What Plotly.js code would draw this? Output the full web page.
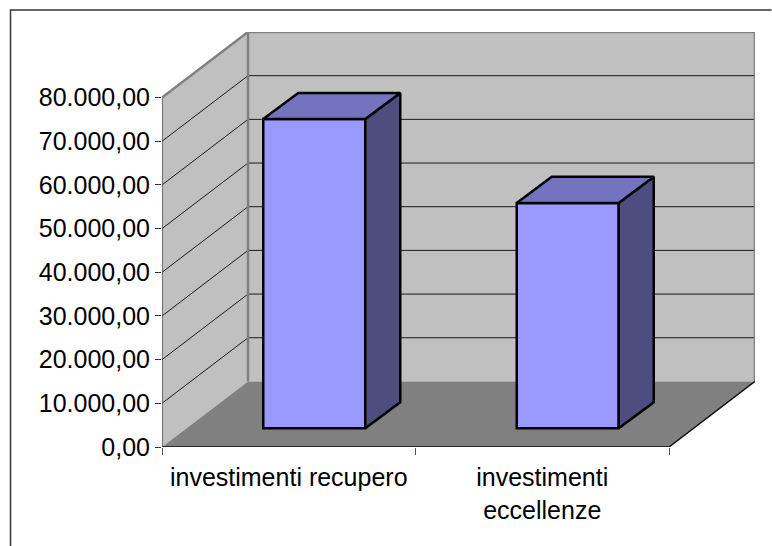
<!DOCTYPE html>
<html>
<head>
<meta charset="utf-8">
<script src="https://cdn.plot.ly/plotly-3.0.1.min.js"></script>
<style>html,body{margin:0;padding:0;background:#fff;overflow:hidden}#chart{width:772px;height:546px}</style>
</head>
<body>
<div id="chart"></div>
<script>
const categories = ['investimenti recupero', 'investimenti<br>eccellenze'];
const values = [70800, 51600];
const yTicks = [0, 10000, 20000, 30000, 40000, 50000, 60000, 70000, 80000];

// Pixel geometry of the fake 3D box
const W = 772, H = 546;
const left = 162, frontRight = 669, bottom = 447, top80 = 98;
const depthPx = 86, risePx = 65.5;
const catPx = (frontRight - left) / categories.length;
const valPx = (bottom - top80) / 80000;
// Conversions to data units
const dx = depthPx / catPx;
const dy = risePx / valPx;
const xMin = -0.5, xFront = xMin + categories.length, xBack = xFront + dx;
const yBack = 80000 + dy;
// Bars sit part way into the floor
const barDx = 25.5 / catPx, barDy = 18.7 / valPx;
const barW = 102 / catPx;
const barDepthX = 35 / catPx, barDepthY = 26 / valPx;

const poly = pts => 'M' + pts.map(p => p[0] + ',' + p[1]).join('L') + 'Z';
const open = pts => 'M' + pts.map(p => p[0] + ',' + p[1]).join('L');
const shape = (path, fill, lineColor, lineWidth) => ({
  type: 'path', xref: 'x', yref: 'y', layer: 'below', path,
  fillcolor: fill || 'rgba(0,0,0,0)',
  line: {color: lineColor || 'rgba(0,0,0,0)', width: lineWidth || 0}
});

const shapes = [
  shape(poly([[xMin, 0], [xMin + dx, dy], [xMin + dx, yBack], [xMin, 80000]]), '#C0C0C0'),
  shape(poly([[xMin + dx, dy], [xBack, dy], [xBack, yBack], [xMin + dx, yBack]]), '#C0C0C0'),
  shape(poly([[xMin, 0], [xMin + dx, dy], [xBack, dy], [xFront, 0]]), '#808080')
];
yTicks.filter(v => v > 0 && v < 80000).forEach(v => {
  shapes.push(shape(open([[xMin, v], [xMin + dx, v + dy], [xBack, v + dy]]), null, '#1a1a1a', 1));
});
// Wall edges
shapes.push(shape(open([[xMin, 80000], [xMin + dx, yBack], [xBack, yBack], [xBack, dy]]), null, '#808080', 2.5));
shapes.push(shape(open([[xMin + dx, dy], [xMin + dx, yBack]]), null, '#808080', 2.5));
// Axes and floor edge
shapes.push(shape(open([[xMin, 0], [xMin, 80000]]), null, '#555555', 1.5));
shapes.push(shape(open([[xMin, 0], [xFront, 0], [xBack, dy]]), null, '#111111', 1.5));

const traces = [{
  type: 'bar',
  x: categories.map((c, i) => i + barDx),
  y: values,
  base: barDy,
  width: barW,
  marker: {color: '#9999FF', line: {color: '#000000', width: 2.5}},
  hoverinfo: 'skip'
}];
values.forEach((v, i) => {
  const x0 = i + barDx - barW / 2, x1 = x0 + barW;
  const b = barDy, t = barDy + v;
  const ex = barDepthX, ey = barDepthY;
  traces.push({
    type: 'scatter', mode: 'lines', fill: 'toself', fillcolor: '#4D4D80',
    x: [x1, x1 + ex, x1 + ex, x1, x1],
    y: [b, b + ey, t + ey, t, b],
    line: {color: '#000000', width: 2.5}, hoverinfo: 'skip'
  });
  traces.push({
    type: 'scatter', mode: 'lines', fill: 'toself', fillcolor: '#7373BF',
    x: [x0, x0 + ex, x1 + ex, x1, x0],
    y: [t, t + ey, t + ey, t, t],
    line: {color: '#000000', width: 2.5}, hoverinfo: 'skip'
  });
});

const pw = (xBack - xMin) * catPx, ph = yBack * valPx;
const layout = {
  width: W, height: H,
  margin: {l: left, r: W - (left + pw), t: bottom - ph, b: H - bottom, pad: 0},
  paper_bgcolor: '#ffffff', plot_bgcolor: 'rgba(0,0,0,0)',
  showlegend: false,
  bargap: 0,
  separators: ',.',
  font: {family: '"Liberation Sans", Arial, sans-serif', size: 25, color: '#000000'},
  xaxis: {
    range: [xMin, xBack], showgrid: false, zeroline: false, showline: false, fixedrange: true,
    tickmode: 'array', tickvals: categories.map((c, i) => i), ticktext: categories,
    ticks: 'outside', ticklen: 8, tickcolor: 'rgba(0,0,0,0)', tickangle: 0,
    minor: {tickmode: 'array', tickvals: [-0.5, 0.5, 1.5], ticks: 'outside', ticklen: 7, tickwidth: 1, tickcolor: '#555555', showgrid: false}
  },
  yaxis: {
    range: [0, yBack], showgrid: false, zeroline: false, showline: false, fixedrange: true,
    tickmode: 'array', tickvals: yTicks, tickformat: ',.2f',
    ticks: 'outside', ticklen: 6, tickwidth: 1, tickcolor: '#333333'
  },
  shapes: shapes.concat([
    {type: 'path', xref: 'paper', yref: 'paper', layer: 'above',
     path: open([[(10.5 - left) / pw, (bottom - 546) / ph],
                 [(10.5 - left) / pw, (bottom - 10.5) / ph],
                 [(771.5 - left) / pw, (bottom - 10.5) / ph]]),
     line: {color: '#333333', width: 1.5}}
  ])
};

Plotly.newPlot('chart', traces, layout, {staticPlot: true, displayModeBar: false});
</script>
</body>
</html>
